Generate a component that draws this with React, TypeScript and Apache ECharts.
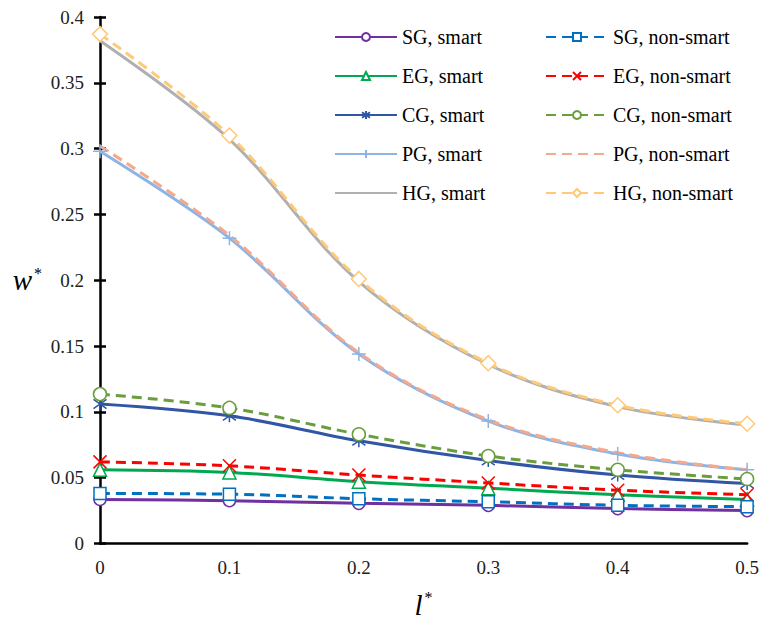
import React, { useEffect, useRef } from "react";
import * as echarts from "echarts";

const xValues = [0, 0.1, 0.2, 0.3, 0.4, 0.5];
const yTicks = [0, 0.05, 0.1, 0.15, 0.2, 0.25, 0.3, 0.35, 0.4];

const sgSmart = [0.0335, 0.0325, 0.0305, 0.029, 0.0265, 0.025];
const sgNonSmart = [0.038, 0.0375, 0.034, 0.0317, 0.029, 0.028];
const egSmart = [0.056, 0.054, 0.047, 0.042, 0.037, 0.0335];
const egNonSmart = [0.062, 0.059, 0.052, 0.046, 0.0405, 0.037];
const cgSmart = [0.106, 0.097, 0.078, 0.063, 0.052, 0.0455];
const cgNonSmart = [0.1135, 0.103, 0.083, 0.0665, 0.056, 0.049];
const pgSmart = [0.298, 0.232, 0.144, 0.093, 0.068, 0.056];
const pgNonSmart = [0.302, 0.234, 0.145, 0.094, 0.069, 0.056];
const hgSmart = [0.382, 0.307, 0.199, 0.136, 0.104, 0.09];
const hgNonSmart = [0.387, 0.31, 0.201, 0.137, 0.105, 0.091];

const smartNames = ["SG, smart", "EG, smart", "CG, smart", "PG, smart", "HG, smart"];
const nonSmartNames = ["SG, non-smart", "EG, non-smart", "CG, non-smart", "PG, non-smart", "HG, non-smart"];
const noMarkerNames = ["HG, smart", "PG, non-smart"];

const FONT = "Liberation Serif";

const PLUS = "path://M5 0L5 10M0 5L10 5";
const CROSS = "path://M0 0L10 10M10 0L0 10";
const STAR = "path://M5 0L5 10M0.5 1.5L9.5 8.5M9.5 1.5L0.5 8.5";

function mk(
  name: string,
  vals: number[],
  color: string,
  dashed: boolean,
  symbol: string,
  symbolSize: number,
  width = 3
) {
  const hasMarker = symbolSize > 0;
  return {
    name,
    type: "line",
    data: xValues.map((x, i) => [x, vals[i]]),
    smooth: 0.35,
    symbol,
    symbolSize: hasMarker ? symbolSize : 1,
    showSymbol: hasMarker,
    clip: false,
    lineStyle: { color, width, type: dashed ? [10, 6] : "solid" },
    itemStyle: { color: "#ffffff", borderColor: color, borderWidth: 1.5 },
    emphasis: { disabled: true },
  };
}

function legendData(names: string[]) {
  return names.map((n) =>
    noMarkerNames.includes(n) ? { name: n, itemStyle: { opacity: 0 } } : { name: n }
  );
}

const nameRich = {
  a: { fontFamily: FONT, fontStyle: "italic", fontSize: 29, color: "#000", lineHeight: 30 },
  b: { fontFamily: FONT, fontSize: 16, color: "#000", verticalAlign: "top", lineHeight: 30, padding: [0, 0, 0, 2] },
};

export default function App() {
  const ref = useRef<HTMLDivElement>(null);
  useEffect(() => {
    if (!ref.current) return;
    const chart = echarts.init(ref.current, undefined, { renderer: "svg" });
    const legendCommon = {
      orient: "vertical",
      top: 26,
      padding: 0,
      itemWidth: 62,
      itemHeight: 10,
      itemGap: 17,
      textStyle: { fontFamily: FONT, fontSize: 20, color: "#000", lineHeight: 22 },
      selectedMode: false,
    };
    chart.setOption({
      animation: false,
      backgroundColor: "#ffffff",
      textStyle: { fontFamily: FONT },
      grid: { left: 100, right: 10, top: 17, bottom: 77 },
      legend: [
        { ...legendCommon, left: 334, data: legendData(smartNames) },
        { ...legendCommon, left: 545, data: legendData(nonSmartNames) },
      ],
      xAxis: {
        type: "value",
        min: 0,
        max: 0.5,
        interval: 0.1,
        name: "{a|l}{b|*}",
        nameLocation: "middle",
        nameGap: 46,
        nameTextStyle: { rich: nameRich },
        axisLine: { lineStyle: { color: "#000", width: 2.5 } },
        axisTick: { show: false },
        splitLine: { show: false },
        axisLabel: { fontFamily: FONT, fontSize: 19, color: "#222", margin: 14 },
      },
      yAxis: [
        {
          type: "value",
          min: 0,
          max: 0.4,
          interval: 0.05,
          name: "{a|w}{b|*}",
          nameLocation: "middle",
          nameRotate: 0,
          nameGap: 58,
          nameTextStyle: { rich: nameRich },
          axisLine: { show: true, lineStyle: { color: "#000", width: 2.5 } },
          axisTick: { show: true, length: 6, lineStyle: { color: "#000", width: 2.5 } },
          splitLine: { show: false },
          axisLabel: {
            fontFamily: FONT,
            fontSize: 19,
            color: "#222",
            margin: 16,
            formatter: (v: number) => {
              const t = yTicks.find((k) => Math.abs(k - v) < 1e-9);
              return t === undefined ? "" : String(t);
            },
          },
        },
        {
          type: "value",
          position: "left",
          min: 0,
          max: 0.4,
          interval: 0.05,
          axisLine: { show: false },
          axisTick: { show: true, inside: true, length: 6, lineStyle: { color: "#000", width: 2.5 } },
          splitLine: { show: false },
          axisLabel: { show: false },
        },
      ],
      series: [
        mk("HG, smart", hgSmart, "#B0B0B0", false, "circle", 0),
        mk("PG, smart", pgSmart, "#8EB4E3", false, PLUS, 14),
        mk("CG, smart", cgSmart, "#3156A6", false, STAR, 13),
        mk("EG, smart", egSmart, "#00A850", false, "triangle", 13),
        mk("SG, smart", sgSmart, "#7030A0", false, "circle", 12),
        mk("HG, non-smart", hgNonSmart, "#FFC978", true, "diamond", 15),
        mk("PG, non-smart", pgNonSmart, "#F5A98C", true, "circle", 0),
        mk("CG, non-smart", cgNonSmart, "#6A9E3C", true, "circle", 13),
        mk("EG, non-smart", egNonSmart, "#FF0000", true, CROSS, 13),
        mk("SG, non-smart", sgNonSmart, "#0070C0", true, "rect", 12),
      ],
    });
    return () => chart.dispose();
  }, []);
  return (
    <div
      ref={ref}
      style={{ position: "fixed", left: 0, top: 0, width: 762, height: 624 }}
    />
  );
}
